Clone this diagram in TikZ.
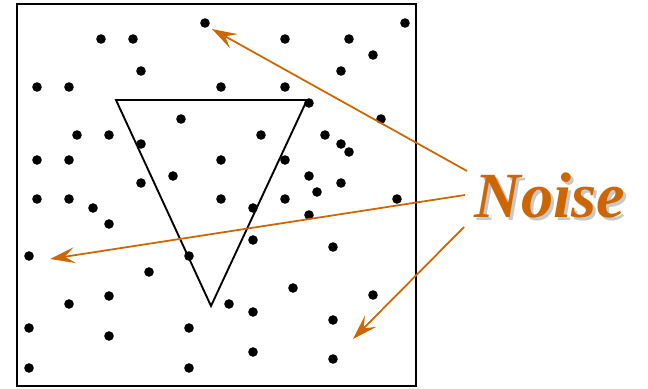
\documentclass[tikz,border=0pt]{standalone}
\usepackage{fontspec}
\setmainfont{Liberation Serif}
\usepackage{tikz}
\usetikzlibrary{arrows.meta,positioning}
\usepackage{xcolor}
\definecolor{noiseorange}{RGB}{204,102,0}
\definecolor{shadowgray}{RGB}{200,200,200}
\tikzset{
  frame/.style={draw,line width=2pt},
  tri/.style={draw,line width=1.6pt,line join=miter},
  dot/.style={fill=black},
  noisearrow/.style={-{Stealth[length=0.75cm,width=0.48cm,inset=0.3cm]},line width=1.5pt,noiseorange},
  label/.style={font=\fontsize{55}{60}\selectfont\bfseries\itshape,inner sep=0pt,anchor=base}
}

\begin{document}
\begin{tikzpicture}[x=0.03cm,y=-0.03cm]
\useasboundingbox (0,0) rectangle (648,388);
% square
\draw[frame] (17,4) rectangle (416,386);
% triangle
\coordinate (tl) at (116,100);
\coordinate (tr) at (307,100);
\coordinate (bt) at (211,306);
\draw[tri] (tl) -- (tr) -- (bt) -- cycle;
% random dots
\foreach \x/\y in {205/23,405/23,101/39,133/39,285/39,349/39,373/55,141/71,341/71,
  37/87,69/87,221/87,285/87,309/103,181/119,381/119,77/135,109/135,261/135,325/135,
  141/144,341/144,349/152,37/160,69/160,221/160,285/160,173/176,309/176,141/183,341/183,
  317/192,37/199,69/199,221/199,285/199,397/199,93/208,253/208,309/215,109/224,
  253/240,333/247,29/256,189/256,149/272,293/288,373/295,109/296,69/304,229/304,
  253/312,333/320,29/328,189/328,109/336,253/352,29/368,189/368,333/359}
  \fill[dot] (\x,\y) circle (4.8);
% label with its shadow
\node[label,text=shadowgray] at (553,220) {Noise};
\node[label,text=noiseorange] (noise) at (550,217) {Noise};
\coordinate (s1) at (467,171);
\coordinate (s2) at (465,195);
\coordinate (s3) at (464,227);
\coordinate (t1) at (212,29);
\coordinate (t2) at (50,259);
\coordinate (t3) at (353,339);
\draw[noisearrow] (s1) -- (t1);
\draw[noisearrow] (s2) -- (t2);
\draw[noisearrow] (s3) -- (t3);
\end{tikzpicture}
\end{document}
